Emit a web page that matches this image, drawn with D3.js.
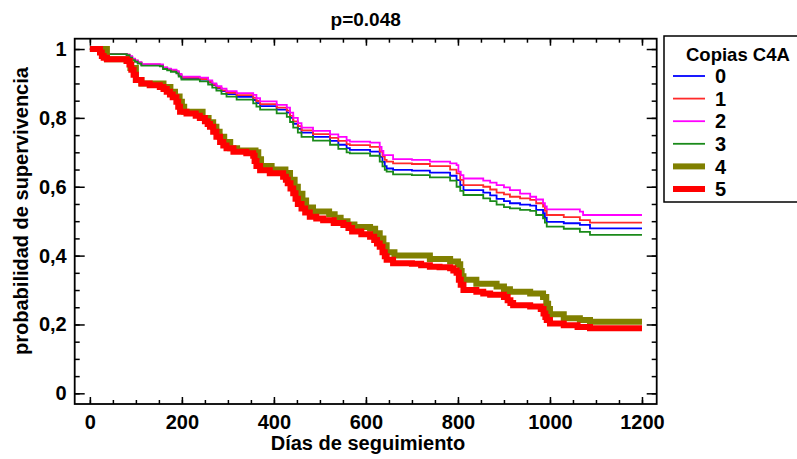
<!DOCTYPE html>
<html lang="en">
<head>
    <meta charset="UTF-8">
    <title>Supervivencia por copias C4A</title>
    <script src="https://d3js.org/d3.v7.min.js"></script>
    <style>
        body {
            margin: 0;
            background: #fff;
            font-family: Arial, "Liberation Sans", sans-serif;
        }
        text {
            font-family: Arial, "Liberation Sans", sans-serif;
            font-weight: bold;
            fill: #000;
        }
    </style>
</head>
<body>
    <div id="chart"></div>
    <script>
        // Kaplan-Meier curves, [day, survival] pairs
        const groups = ["0", "1", "2", "3", "4", "5"];

        const surv0 = [[0,1],[37,.985],[80,.983],[86,.977],[92,.97],[98,.965],[104,.96],[112,.954],[152,.953],[159,.945],[168,.941],[176,.937],[188,.932],[193,.924],[199,.915],[239,.911],[257,.903],[266,.895],[275,.886],[286,.878],[297,.869],[319,.861],[355,.852],[362,.843],[370,.834],[406,.824],[428,.815],[435,.8],[442,.783],[452,.768],[460,.757],[485,.745],[522,.733],[540,.722],[558,.712],[565,.707],[609,.702],[630,.687],[636,.672],[641,.66],[645,.653],[659,.649],[700,.647],[739,.641],[783,.632],[797,.619],[805,.605],[812,.59],[855,.583],[870,.575],[884,.565],[900,.558],[913,.552],[935,.548],[957,.545],[970,.533],[985,.523],[989,.51],[993,.498],[1030,.494],[1065,.489],[1087,.479],[1200,.479]];
        const surv1 = [[0,1],[37,.985],[80,.984],[86,.978],[92,.971],[98,.966],[104,.961],[112,.955],[152,.954],[159,.946],[168,.942],[176,.938],[188,.934],[193,.926],[199,.917],[239,.913],[257,.905],[266,.897],[275,.888],[286,.88],[297,.873],[319,.866],[355,.858],[362,.849],[370,.84],[406,.83],[428,.821],[435,.806],[442,.79],[452,.776],[460,.764],[485,.753],[522,.742],[540,.733],[558,.724],[565,.721],[609,.716],[630,.702],[636,.688],[641,.678],[645,.673],[659,.668],[700,.666],[739,.66],[783,.65],[797,.639],[805,.62],[812,.605],[855,.6],[870,.592],[884,.583],[900,.578],[913,.571],[935,.566],[957,.562],[970,.552],[985,.542],[989,.53],[993,.518],[1030,.512],[1065,.503],[1087,.496],[1200,.496]];
        const surv2 = [[0,1],[37,.985],[80,.984],[86,.979],[92,.972],[98,.967],[104,.962],[112,.956],[152,.955],[159,.947],[168,.943],[176,.94],[188,.936],[193,.928],[199,.92],[239,.917],[257,.909],[266,.9],[275,.892],[286,.885],[297,.878],[319,.872],[355,.867],[362,.857],[370,.848],[406,.838],[428,.83],[435,.815],[442,.8],[452,.785],[460,.772],[485,.762],[522,.752],[540,.745],[558,.735],[565,.731],[609,.728],[630,.716],[634,.704],[638,.692],[659,.68],[700,.678],[739,.673],[783,.668],[797,.663],[801,.644],[806,.634],[812,.624],[855,.618],[870,.612],[884,.605],[900,.598],[913,.59],[935,.58],[957,.571],[970,.563],[985,.552],[989,.543],[993,.534],[1065,.528],[1072,.518],[1200,.518]];
        const surv3 = [[0,1],[37,.985],[80,.982],[86,.975],[92,.968],[98,.963],[104,.958],[112,.952],[152,.95],[159,.942],[168,.938],[176,.934],[188,.929],[193,.92],[199,.911],[239,.906],[257,.897],[266,.888],[275,.879],[286,.87],[297,.862],[319,.853],[355,.842],[362,.833],[370,.824],[406,.813],[428,.803],[435,.788],[442,.772],[452,.757],[460,.745],[485,.734],[522,.722],[540,.71],[558,.7],[565,.697],[609,.69],[630,.673],[636,.659],[641,.649],[645,.644],[659,.636],[700,.634],[739,.627],[783,.618],[797,.6],[805,.588],[812,.576],[855,.566],[870,.558],[884,.548],[900,.541],[913,.537],[935,.533],[957,.53],[970,.518],[985,.508],[989,.496],[993,.484],[1030,.478],[1065,.469],[1087,.46],[1200,.46]];
        const surv4 = [[0,1],[37,.97],[80,.965],[88,.945],[100,.91],[112,.9],[160,.89],[175,.876],[185,.862],[195,.847],[200,.832],[205,.818],[245,.8],[258,.787],[268,.774],[275,.76],[282,.745],[292,.73],[305,.712],[320,.705],[360,.7],[366,.68],[372,.66],[395,.65],[425,.64],[435,.62],[445,.6],[452,.58],[462,.56],[470,.54],[485,.528],[520,.52],[532,.51],[545,.5],[560,.49],[575,.483],[609,.478],[620,.465],[630,.45],[638,.43],[645,.41],[662,.4],[739,.39],[783,.383],[800,.375],[805,.355],[808,.34],[812,.33],[840,.318],[884,.31],[900,.302],[913,.295],[957,.29],[985,.28],[992,.26],[996,.245],[1000,.23],[1030,.218],[1065,.213],[1087,.208],[1200,.208]];
        const surv5 = [[0,1],[22,.99],[26,.98],[30,.975],[37,.97],[80,.965],[86,.955],[90,.94],[95,.925],[100,.91],[112,.9],[130,.895],[152,.89],[160,.884],[167,.876],[174,.868],[180,.86],[188,.847],[192,.832],[196,.818],[210,.813],[230,.806],[239,.8],[250,.79],[256,.782],[261,.774],[268,.76],[275,.745],[283,.73],[290,.72],[297,.712],[312,.702],[340,.697],[355,.69],[358,.675],[362,.66],[370,.648],[391,.639],[420,.629],[426,.62],[430,.61],[436,.595],[442,.581],[447,.565],[452,.55],[460,.537],[468,.525],[478,.513],[492,.508],[507,.503],[530,.495],[551,.489],[562,.48],[570,.47],[590,.462],[609,.455],[618,.445],[624,.435],[630,.426],[636,.41],[641,.398],[645,.388],[659,.378],[700,.376],[720,.372],[739,.368],[760,.366],[783,.363],[790,.357],[797,.35],[802,.33],[806,.315],[812,.3],[840,.295],[855,.29],[870,.286],[900,.28],[908,.27],[914,.262],[920,.256],[957,.252],[980,.245],[986,.232],[990,.222],[993,.213],[1000,.203],[1030,.198],[1060,.193],[1087,.189],[1200,.189]];
        const series = [surv0, surv1, surv2, surv3, surv4, surv5];

        const xTicks = [0, 200, 400, 600, 800, 1000, 1200];
        const xMinor = d3.range(0, 1201, 50);
        const yTicks = [0, 0.2, 0.4, 0.6, 0.8, 1];
        const yLabels = ["0", "0,2", "0,4", "0,6", "0,8", "1"];
        const yMinor = d3.range(0, 21).map(i => i * 0.05);

        const colors = ["#0000ff", "#ff2a2a", "#ff00ff", "#1a8a1a", "#808000", "#ff0000"];
        const widths = [1.8, 1.8, 1.8, 1.8, 6, 6];

        const W = 797, H = 459;
        const frame = {left: 74.7, right: 656.7, top: 38.7, bottom: 404};

        const svg = d3.select("#chart")
            .append("svg")
            .attr("width", W)
            .attr("height", H);

        const x = d3.scaleLinear()
            .domain([-33, 1232])
            .range([frame.left, frame.right]);

        const y = d3.scaleLinear()
            .domain([-0.031, 1.03])
            .range([frame.bottom, frame.top]);

        // curves
        const line = d3.line()
            .x(d => x(d[0]))
            .y(d => y(d[1]))
            .curve(d3.curveStepAfter);

        svg.append("g")
            .selectAll("path")
            .data(series)
            .enter().append("path")
            .attr("d", line)
            .attr("fill", "none")
            .attr("stroke", (d, i) => colors[i])
            .attr("stroke-width", (d, i) => widths[i])
            .attr("stroke-linejoin", "miter");

        // axes, ticks pointing inward
        const fontSize = 20;

        const styleAxis = g => {
            g.select(".domain").remove();
            g.selectAll(".tick line").attr("stroke", "#000").attr("stroke-width", 1.5);
            g.selectAll("text")
                .attr("fill", "#000")
                .style("font-size", fontSize + "px")
                .style("font-weight", "bold");
        };

        svg.append("g")
            .attr("transform", `translate(0,${frame.bottom})`)
            .call(d3.axisBottom(x).tickValues(xTicks).tickSize(-7).tickPadding(11)
                .tickFormat(d3.format("d")))
            .call(styleAxis);
        svg.append("g")
            .attr("transform", `translate(0,${frame.bottom})`)
            .call(d3.axisBottom(x).tickValues(xMinor).tickSize(-4).tickFormat(""))
            .call(styleAxis);
        svg.append("g")
            .attr("transform", `translate(0,${frame.top})`)
            .call(d3.axisTop(x).tickValues(xTicks).tickSize(-7).tickFormat(""))
            .call(styleAxis);
        svg.append("g")
            .attr("transform", `translate(0,${frame.top})`)
            .call(d3.axisTop(x).tickValues(xMinor).tickSize(-4).tickFormat(""))
            .call(styleAxis);

        svg.append("g")
            .attr("transform", `translate(${frame.left},0)`)
            .call(d3.axisLeft(y).tickValues(yTicks).tickSize(-10).tickPadding(8)
                .tickFormat((d, i) => yLabels[i]))
            .call(styleAxis);
        svg.append("g")
            .attr("transform", `translate(${frame.left},0)`)
            .call(d3.axisLeft(y).tickValues(yMinor).tickSize(-5).tickFormat(""))
            .call(styleAxis);
        svg.append("g")
            .attr("transform", `translate(${frame.right},0)`)
            .call(d3.axisRight(y).tickValues(yTicks).tickSize(-10).tickFormat(""))
            .call(styleAxis);
        svg.append("g")
            .attr("transform", `translate(${frame.right},0)`)
            .call(d3.axisRight(y).tickValues(yMinor).tickSize(-5).tickFormat(""))
            .call(styleAxis);

        svg.append("rect")
            .attr("x", frame.left)
            .attr("y", frame.top)
            .attr("width", frame.right - frame.left)
            .attr("height", frame.bottom - frame.top)
            .attr("fill", "none")
            .attr("stroke", "#000")
            .attr("stroke-width", 1.8);

        // titles
        svg.append("text")
            .attr("x", (frame.left + frame.right) / 2)
            .attr("y", 26)
            .attr("text-anchor", "middle")
            .style("font-size", "19px")
            .text("p=0.048");

        svg.append("text")
            .attr("x", 368)
            .attr("y", 450)
            .attr("text-anchor", "middle")
            .style("font-size", "20px")
            .text("Días de seguimiento");

        svg.append("text")
            .attr("transform", "translate(28,211) rotate(-90)")
            .attr("text-anchor", "middle")
            .style("font-size", "20px")
            .text("probabilidad de supervivencia");

        // legend
        const legend = svg.append("g");
        legend.append("rect")
            .attr("x", 664)
            .attr("y", 36)
            .attr("width", 200)
            .attr("height", 166)
            .attr("fill", "#fff")
            .attr("stroke", "#000")
            .attr("stroke-width", 1.5);
        legend.append("text")
            .attr("x", 686)
            .attr("y", 61)
            .style("font-size", "18.5px")
            .text("Copias C4A");

        const item = legend.selectAll(".item")
            .data(groups)
            .enter().append("g")
            .attr("class", "item")
            .attr("transform", (d, i) => `translate(0,${76 + i * 22.6})`);
        item.append("line")
            .attr("x1", 673)
            .attr("x2", 705)
            .attr("stroke", (d, i) => colors[i])
            .attr("stroke-width", (d, i) => widths[i]);
        item.append("text")
            .attr("x", 715)
            .attr("dy", "0.36em")
            .style("font-size", fontSize + "px")
            .text(d => d);
    </script>
</body>
</html>
